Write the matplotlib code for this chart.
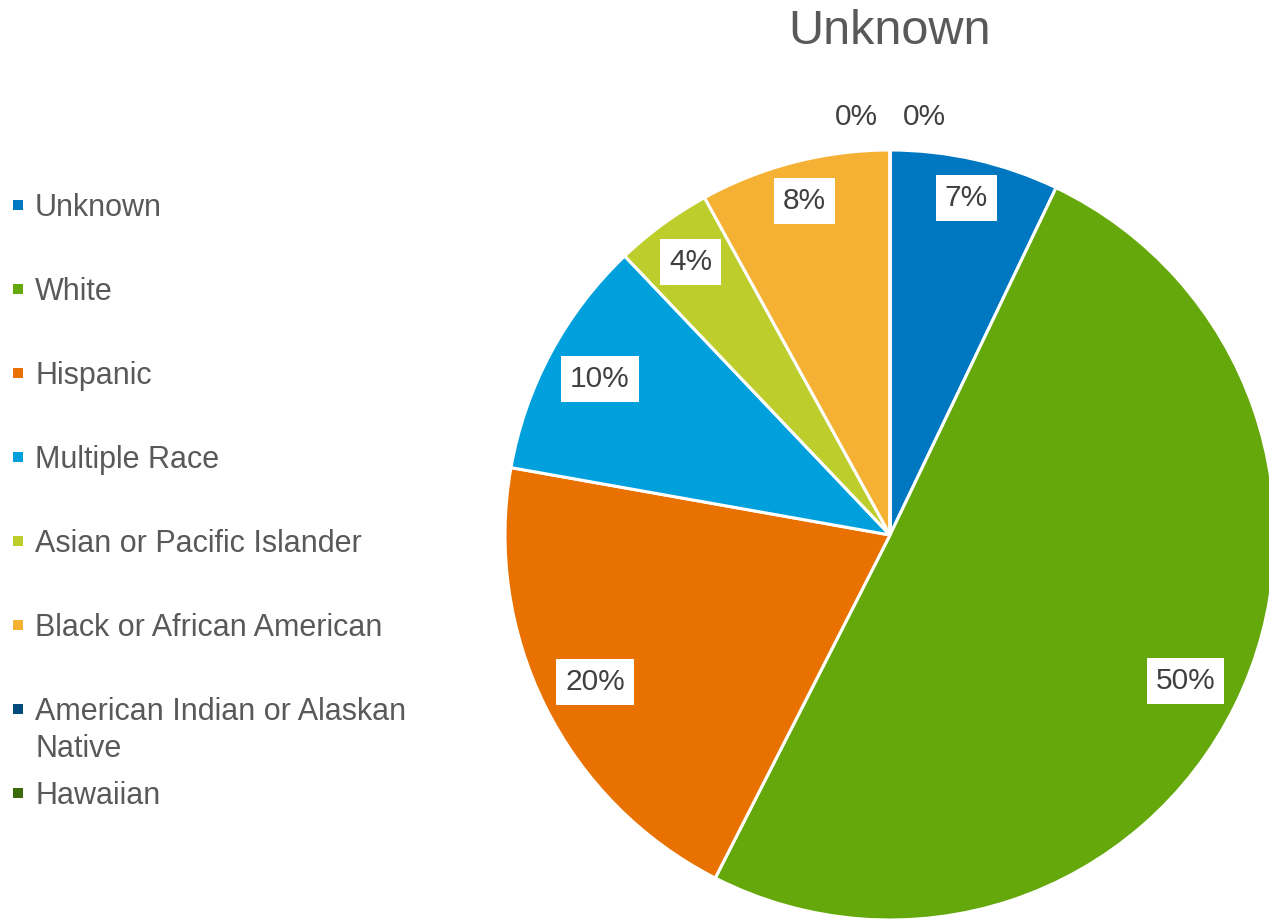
import matplotlib
matplotlib.use("Agg")
import matplotlib.pyplot as plt
import numpy as np

plt.rcParams['font.family'] = ['Liberation Sans', 'DejaVu Sans']

title = "Unknown"
categories = ["Unknown", "White", "Hispanic", "Multiple Race",
              "Asian or Pacific Islander", "Black or African American",
              "American Indian or Alaskan\nNative", "Hawaiian"]
values = [7.1, 50.4, 20.3, 10.1, 4.1, 8.0, 0.0, 0.0]
colors = ["#0078C1", "#65A80B", "#E87100", "#00A0DC",
          "#BDCD2B", "#F5B133", "#004B7C", "#3A6A0C"]

TXT = "#595959"
W, H = 1269, 921
fig = plt.figure(figsize=(W / 100, H / 100), dpi=100)
fig.patch.set_facecolor("white")

cx, cy, R = 890, 535, 385
ax = fig.add_axes([(cx - R) / W, (H - cy - R) / H, 2 * R / W, 2 * R / H])

wedges, _ = ax.pie(values, colors=colors, startangle=90, counterclock=False,
                   radius=1.0, center=(0, 0),
                   wedgeprops=dict(edgecolor="white", linewidth=2.2))
ax.set_xlim(-1, 1)
ax.set_ylim(-1, 1)
ax.set_aspect("equal")
ax.axis("off")
for w in wedges:
    w.set_clip_on(False)

fig.canvas.draw()
renderer = fig.canvas.get_renderer()

total = sum(values)
zero_idx = 0
inset_px = 10.5
fs = 21.5
pad_px = 0.3 * fs * 100 / 72
for w, v in zip(wedges, values):
    ang = np.deg2rad((w.theta1 + w.theta2) / 2)
    pct = f"{round(v / total * 100):.0f}%"
    if v > 0:
        t = ax.text(0, 0, pct, ha="center", va="center",
                    fontsize=fs, color="#404040",
                    bbox=dict(boxstyle="square,pad=0.3", facecolor="white", edgecolor="none"))
        bb = t.get_window_extent(renderer)
        bw, bh = bb.width + 2 * pad_px, bb.height + 2 * pad_px
        half = 0.5 * bw * abs(np.cos(ang)) + 0.5 * bh * abs(np.sin(ang))
        r = (R - inset_px - half) / R
        t.set_position((r * np.cos(ang), r * np.sin(ang)))
    else:
        off = -24.5 if zero_idx == 0 else 24.5
        zero_idx += 1
        ax.annotate(pct, xy=(1.085 * np.cos(ang), 1.085 * np.sin(ang)),
                    xytext=(off, 0), textcoords="offset points",
                    ha="center", va="center", fontsize=fs, color="#404040",
                    annotation_clip=False)

fig.text(cx / W, 1 - 32 / H, title, ha="center", va="center", fontsize=35, color=TXT)

# legend
for i, (lab, col) in enumerate(zip(categories, colors)):
    ypx = 205 + 84 * i
    fig.patches.append(plt.Rectangle(((13) / W, 1 - (ypx + 5) / H), 10 / W, 10 / H,
                                     transform=fig.transFigure, facecolor=col,
                                     edgecolor="none"))
    fig.text(35 / W, 1 - (ypx - 12) / H, lab, ha="left", va="top",
             fontsize=22, color=TXT, linespacing=1.32)

fig.savefig("out.png", dpi=100, facecolor="white")
